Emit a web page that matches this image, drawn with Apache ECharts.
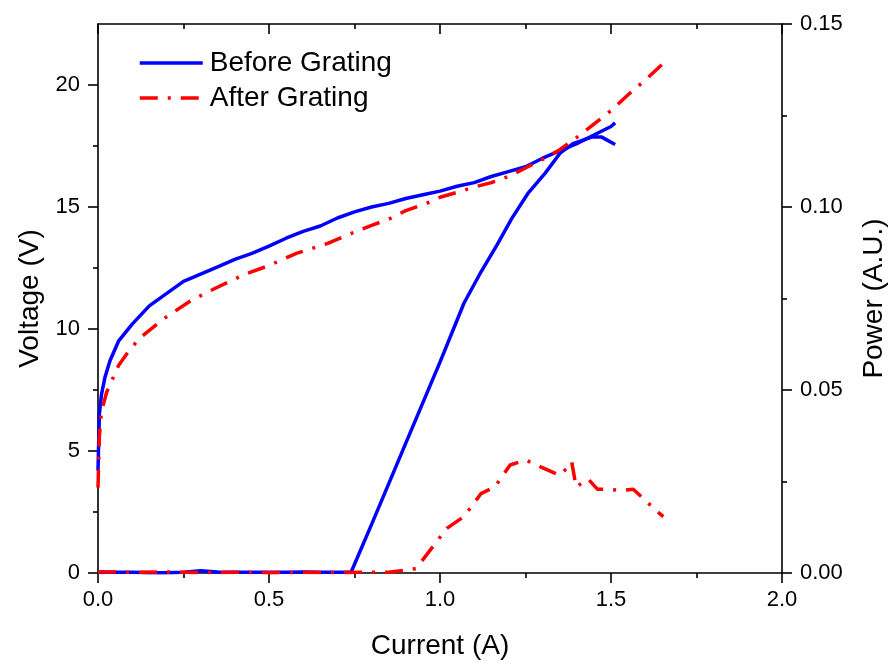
<!DOCTYPE html>
<html>
<head>
<meta charset="utf-8">
<script src="https://cdn.jsdelivr.net/npm/echarts@6/dist/echarts.min.js"></script>
<style>
  html, body { margin: 0; padding: 0; background: #fff; }
  #chart { width: 888px; height: 667px; }
</style>
</head>
<body>
<div id="chart"></div>
<script>
// L-I-V measurements of the laser, before and after the grating was added.
const seriesNames = ['Before Grating', 'After Grating'];

// Voltage (V) vs current (A), before grating
const beforeVoltCurrent = [0, 0.004, 0.01, 0.02, 0.035, 0.06, 0.1, 0.15, 0.2, 0.25, 0.3, 0.35, 0.4, 0.45, 0.5, 0.55, 0.6, 0.65, 0.7, 0.75, 0.8, 0.85, 0.9, 0.95, 1.0, 1.05, 1.1, 1.15, 1.2, 1.25, 1.3, 1.35, 1.4, 1.45, 1.5, 1.512];
const beforeVoltage = [4.2, 6.5, 7.3, 8.0, 8.7, 9.5, 10.2, 10.95, 11.45, 11.95, 12.25, 12.55, 12.85, 13.1, 13.4, 13.72, 14.0, 14.22, 14.55, 14.8, 15.0, 15.15, 15.35, 15.5, 15.65, 15.85, 16.0, 16.25, 16.45, 16.65, 17.0, 17.3, 17.6, 17.95, 18.3, 18.45];

// Voltage (V) vs current (A), after grating
const afterVoltCurrent = [0, 0.004, 0.01, 0.025, 0.06, 0.085, 0.12, 0.19, 0.27, 0.34, 0.43, 0.5, 0.58, 0.67, 0.72, 0.8, 0.85, 0.9, 0.97, 1.0, 1.05, 1.1, 1.15, 1.2, 1.25, 1.3, 1.35, 1.4, 1.45, 1.5, 1.55, 1.6, 1.65];
const afterVoltage = [3.5, 5.6, 6.6, 7.4, 8.5, 9.0, 9.6, 10.4, 11.15, 11.65, 12.25, 12.6, 13.1, 13.5, 13.8, 14.25, 14.5, 14.85, 15.2, 15.4, 15.6, 15.82, 16.0, 16.25, 16.6, 16.95, 17.35, 17.85, 18.4, 18.95, 19.6, 20.2, 20.85];

// Optical power (A.U.) vs current (A), before grating
const beforePowerCurrent = [0, 0.05, 0.1, 0.15, 0.2, 0.25, 0.3, 0.35, 0.4, 0.45, 0.5, 0.55, 0.6, 0.65, 0.7, 0.74, 0.8, 0.9, 1.0, 1.07, 1.12, 1.166, 1.21, 1.257, 1.307, 1.351, 1.389, 1.443, 1.473, 1.512];
const beforePower = [0.0003, 0.0002, 0.0002, 0.0001, 0.0001, 0.0002, 0.0006, 0.0003, 0.0002, 0.0002, 0.0002, 0.0002, 0.0003, 0.0002, 0.0002, 0.0002, 0.0133, 0.0355, 0.0576, 0.0737, 0.0823, 0.0895, 0.0969, 0.1037, 0.1092, 0.1147, 0.1173, 0.1191, 0.1191, 0.1171];

// Optical power (A.U.) vs current (A), after grating
const afterPowerCurrent = [0, 0.1, 0.2, 0.3, 0.4, 0.5, 0.6, 0.7, 0.8, 0.85, 0.93, 1.02, 1.07, 1.12, 1.16, 1.205, 1.25, 1.27, 1.35, 1.375, 1.385, 1.398, 1.433, 1.46, 1.49, 1.53, 1.565, 1.6, 1.63, 1.653];
const afterPower = [0.0003, 0.0002, 0.0003, 0.0001, 0.0002, 0.0001, 0.0002, 0.0001, 0.0002, 0.0002, 0.0012, 0.0122, 0.0154, 0.0217, 0.0235, 0.0295, 0.0309, 0.0300, 0.0267, 0.0290, 0.0304, 0.0235, 0.0257, 0.0229, 0.0229, 0.0225, 0.0229, 0.0199, 0.0172, 0.0154];

// Axis ticks
const currentTicks = [0, 0.5, 1.0, 1.5, 2.0];
const voltageTicks = [0, 5, 10, 15, 20];
const voltageMinorTicks = [2.5, 7.5, 12.5, 17.5];
const powerTicks = [0, 0.05, 0.10, 0.15];

const pair = (xs, ys) => xs.map((x, i) => [x, ys[i]]);

const FONT = 'Liberation Sans, Arial, sans-serif';
const BLACK = '#000';
const BLUE = '#0000ff';
const RED = '#ff0000';
const DASH_DOT = [18, 10, 3, 10];
const LINE_W = 3.5;

const chart = echarts.init(document.getElementById('chart'), null, { renderer: 'canvas' });

const axisLine = { show: true, onZero: false, lineStyle: { color: BLACK, width: 1.6 } };
const majorTick = (inside) => ({ show: true, inside: inside, length: 10, lineStyle: { color: BLACK, width: 1.6 } });
const minorTick = { show: true, splitNumber: 2, length: 5, lineStyle: { color: BLACK, width: 1.6 } };

chart.setOption({
  animation: false,
  backgroundColor: '#fff',
  textStyle: { fontFamily: FONT },
  grid: { left: 98, right: 106, top: 24, bottom: 94, containLabel: false, outerBoundsMode: 'none' },
  legend: {
    orient: 'vertical',
    left: 133,
    top: 42,
    itemWidth: 63,
    itemHeight: 14,
    itemGap: 3,
    itemStyle: { opacity: 0 },
    lineStyle: { width: LINE_W },
    textStyle: { fontFamily: FONT, fontSize: 28, lineHeight: 32, color: BLACK, padding: [0, 0, 0, 2] },
    data: seriesNames
  },
  xAxis: [
    {
      type: 'value', position: 'bottom', min: currentTicks[0], max: currentTicks[currentTicks.length - 1], interval: 0.5,
      name: 'Current (A)', nameLocation: 'middle', nameGap: 59,
      nameTextStyle: { fontFamily: FONT, fontSize: 28, color: BLACK },
      axisLine: axisLine, axisTick: majorTick(false), minorTick: minorTick,
      axisLabel: { fontFamily: FONT, fontSize: 22, color: BLACK, margin: 16, formatter: v => v.toFixed(1) },
      splitLine: { show: false }
    },
    {
      type: 'value', position: 'top', min: currentTicks[0], max: currentTicks[currentTicks.length - 1], interval: 0.5,
      axisLine: axisLine, axisTick: majorTick(true), minorTick: minorTick,
      axisLabel: { show: false }, splitLine: { show: false }
    }
  ],
  yAxis: [
    {
      type: 'value', position: 'left', min: 0, max: 22.5,
      name: 'Voltage (V)', nameLocation: 'middle', nameRotate: 90, nameGap: 53,
      nameTextStyle: { fontFamily: FONT, fontSize: 28, color: BLACK },
      axisLine: axisLine,
      axisTick: Object.assign(majorTick(false), { customValues: voltageTicks }),
      axisLabel: { fontFamily: FONT, fontSize: 22, color: BLACK, margin: 18, customValues: voltageTicks, formatter: v => String(v) },
      splitLine: { show: false }
    },
    {
      type: 'value', position: 'right', min: 0, max: 0.15, interval: 0.05,
      name: 'Power (A.U.)', nameLocation: 'middle', nameRotate: 90, nameGap: 78,
      nameTextStyle: { fontFamily: FONT, fontSize: 28, color: BLACK },
      axisLine: axisLine, axisTick: majorTick(false), minorTick: minorTick,
      axisLabel: { fontFamily: FONT, fontSize: 22, color: BLACK, margin: 18, formatter: v => v.toFixed(2) },
      splitLine: { show: false }
    },
    {
      // minor ticks of the voltage axis
      type: 'value', position: 'left', min: 0, max: 22.5,
      axisLine: { show: false },
      axisTick: { show: true, length: 5, customValues: voltageMinorTicks, lineStyle: { color: BLACK, width: 1.6 } },
      axisLabel: { show: false }, splitLine: { show: false }
    }
  ],
  series: [
    {
      name: seriesNames[0], type: 'line', xAxisIndex: 0, yAxisIndex: 0, symbol: 'none',
      lineStyle: { color: BLUE, width: LINE_W }, itemStyle: { color: BLUE },
      data: pair(beforeVoltCurrent, beforeVoltage)
    },
    {
      name: seriesNames[0], type: 'line', xAxisIndex: 0, yAxisIndex: 1, symbol: 'none',
      lineStyle: { color: BLUE, width: LINE_W }, itemStyle: { color: BLUE },
      data: pair(beforePowerCurrent, beforePower)
    },
    {
      name: seriesNames[1], type: 'line', xAxisIndex: 0, yAxisIndex: 0, symbol: 'none',
      lineStyle: { color: RED, width: LINE_W, type: DASH_DOT }, itemStyle: { color: RED },
      data: pair(afterVoltCurrent, afterVoltage)
    },
    {
      name: seriesNames[1], type: 'line', xAxisIndex: 0, yAxisIndex: 1, symbol: 'none',
      lineStyle: { color: RED, width: LINE_W, type: DASH_DOT }, itemStyle: { color: RED },
      data: pair(afterPowerCurrent, afterPower)
    }
  ]
});
</script>
</body>
</html>
